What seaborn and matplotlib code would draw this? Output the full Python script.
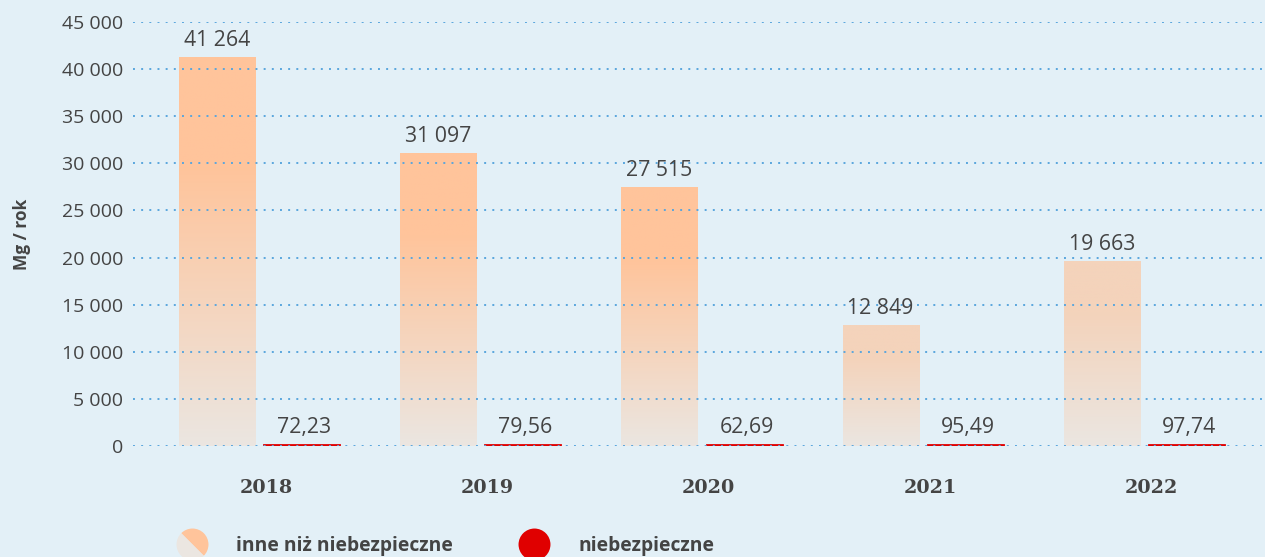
import numpy as np
import pandas as pd
import matplotlib
matplotlib.use("Agg")
import matplotlib.pyplot as plt
import seaborn as sns
from matplotlib.lines import Line2D
from matplotlib.markers import MarkerStyle
from matplotlib.transforms import Affine2D
from matplotlib.colors import LinearSegmentedColormap
import matplotlib.ticker as mticker

years = ["2018", "2019", "2020", "2021", "2022"]
inne = [41264, 31097, 27515, 12849, 19663]
niebezp = [72.23, 79.56, 62.69, 95.49, 97.74]
series_names = ["inne niż niebezpieczne", "niebezpieczne"]
y_ticks = [0, 5000, 10000, 15000, 20000, 25000, 30000, 35000, 40000, 45000]
bar_top_colors = ["#ffc49b", "#ffc49b", "#ffc49b", "#f4d3bb", "#f4d3bb"]

BG = "#e3f0f7"
TXT = "#444444"
ORANGE_TOP = "#ffc49b"
ORANGE_BOT = "#ebe6e1"
RED = "#e00000"
GRID = "#5aa6dd"

sns.set_theme(style="white", rc={"axes.facecolor": BG, "figure.facecolor": BG})
plt.rcParams["font.family"] = ["Open Sans", "DejaVu Sans"]

df = pd.DataFrame({
    "rok": years * 2,
    "rodzaj": [series_names[0]] * len(years) + [series_names[1]] * len(years),
    "wartosc": inne + niebezp,
})

fig = plt.figure(figsize=(12.65, 5.57), dpi=100)
ax = fig.add_axes([133 / 1265, 1 - 446 / 557, 1 - 133 / 1265, (446 - 22) / 557])

sns.barplot(data=df, x="rok", y="wartosc", hue="rodzaj", order=years,
            hue_order=series_names, palette=[ORANGE_TOP, RED],
            width=0.77, gap=0.106, ax=ax, legend=False, errorbar=None,
            saturation=1)

# per-bar vertical gradient for the first series
t = np.linspace(0, 1, 256)
ramp = np.clip(t / 0.72, 0, 1).reshape(-1, 1)
for bar, top_c in zip(ax.containers[0], bar_top_colors):
    bar.set_facecolor("none")
    bar.set_edgecolor("none")
    x0 = bar.get_x()
    w, h = bar.get_width(), bar.get_height()
    cmap = LinearSegmentedColormap.from_list("g", [ORANGE_BOT, top_c])
    im = ax.imshow(ramp, cmap=cmap, origin="lower", aspect="auto",
                   extent=[x0, x0 + w, 0, h], zorder=1, vmin=0, vmax=1)
    im.set_clip_path(bar)

for bar in ax.containers[1]:
    bar.set_edgecolor(RED)
    bar.set_linewidth(1.3)

ax.set_xlim(-0.572, 4.545)
ax.set_ylim(0, 45000)

def fmt_int(v):
    return f"{int(round(v)):,}".replace(",", " ")

def fmt_dec(v):
    return f"{v:.2f}".replace(".", ",")

for bar, v in zip(ax.containers[0], inne):
    ax.annotate(fmt_int(v), (bar.get_x() + bar.get_width() / 2, bar.get_height()),
                xytext=(0, 8), textcoords="offset points", ha="center",
                va="baseline", fontsize=15.3, color=TXT, zorder=5)
for bar, v in zip(ax.containers[1], niebezp):
    ax.annotate(fmt_dec(v), (bar.get_x() + bar.get_width() / 2 + 0.01, bar.get_height()),
                xytext=(0, 9), textcoords="offset points", ha="center",
                va="baseline", fontsize=15.3, color=TXT, zorder=5)

ax.set_yticks(y_ticks)
ax.yaxis.set_major_formatter(mticker.FuncFormatter(lambda v, p: fmt_int(v)))
ax.set_xticks(np.arange(len(years)) + 0.03, years)
ax.grid(axis="y", color=GRID, linestyle=(0, (1, 3.2)), linewidth=1.4)
ax.grid(axis="x", visible=False)
ax.set_axisbelow(False)
for s in ax.spines.values():
    s.set_visible(False)
ax.tick_params(axis="y", length=0, pad=7, labelsize=14, labelcolor=TXT)
ax.tick_params(axis="x", length=0, pad=24, labelsize=14, labelcolor=TXT)
for lbl in ax.get_xticklabels():
    lbl.set_fontfamily("DejaVu Serif")
    lbl.set_fontweight("bold")
    lbl.set_fontsize(13.8)

ax.set_xlabel("")
ax.set_ylabel("Mg / rok", fontsize=12.5, fontweight="bold", color=TXT, labelpad=22)

# legend
mk0 = MarkerStyle("o", fillstyle="right", transform=Affine2D().rotate_deg(45))
h0 = Line2D([], [], linestyle="none", marker=mk0, markersize=23,
            markerfacecolor=ORANGE_TOP, markerfacecoloralt=ORANGE_BOT,
            markeredgewidth=0)
h1 = Line2D([], [], linestyle="none", marker="o", markersize=23,
            markerfacecolor=RED, markeredgewidth=0)
leg = fig.legend([h0, h1], series_names, loc="center left",
                 bbox_to_anchor=(169 / 1265, 1 - 546 / 557), ncol=2,
                 frameon=False, handlelength=1.6, handletextpad=1.49,
                 columnspacing=3.4, borderaxespad=0,
                 prop={"size": 13.9, "weight": "bold"})
for t_ in leg.get_texts():
    t_.set_color(TXT)

fig.savefig("out.png", dpi=100, facecolor=BG)
